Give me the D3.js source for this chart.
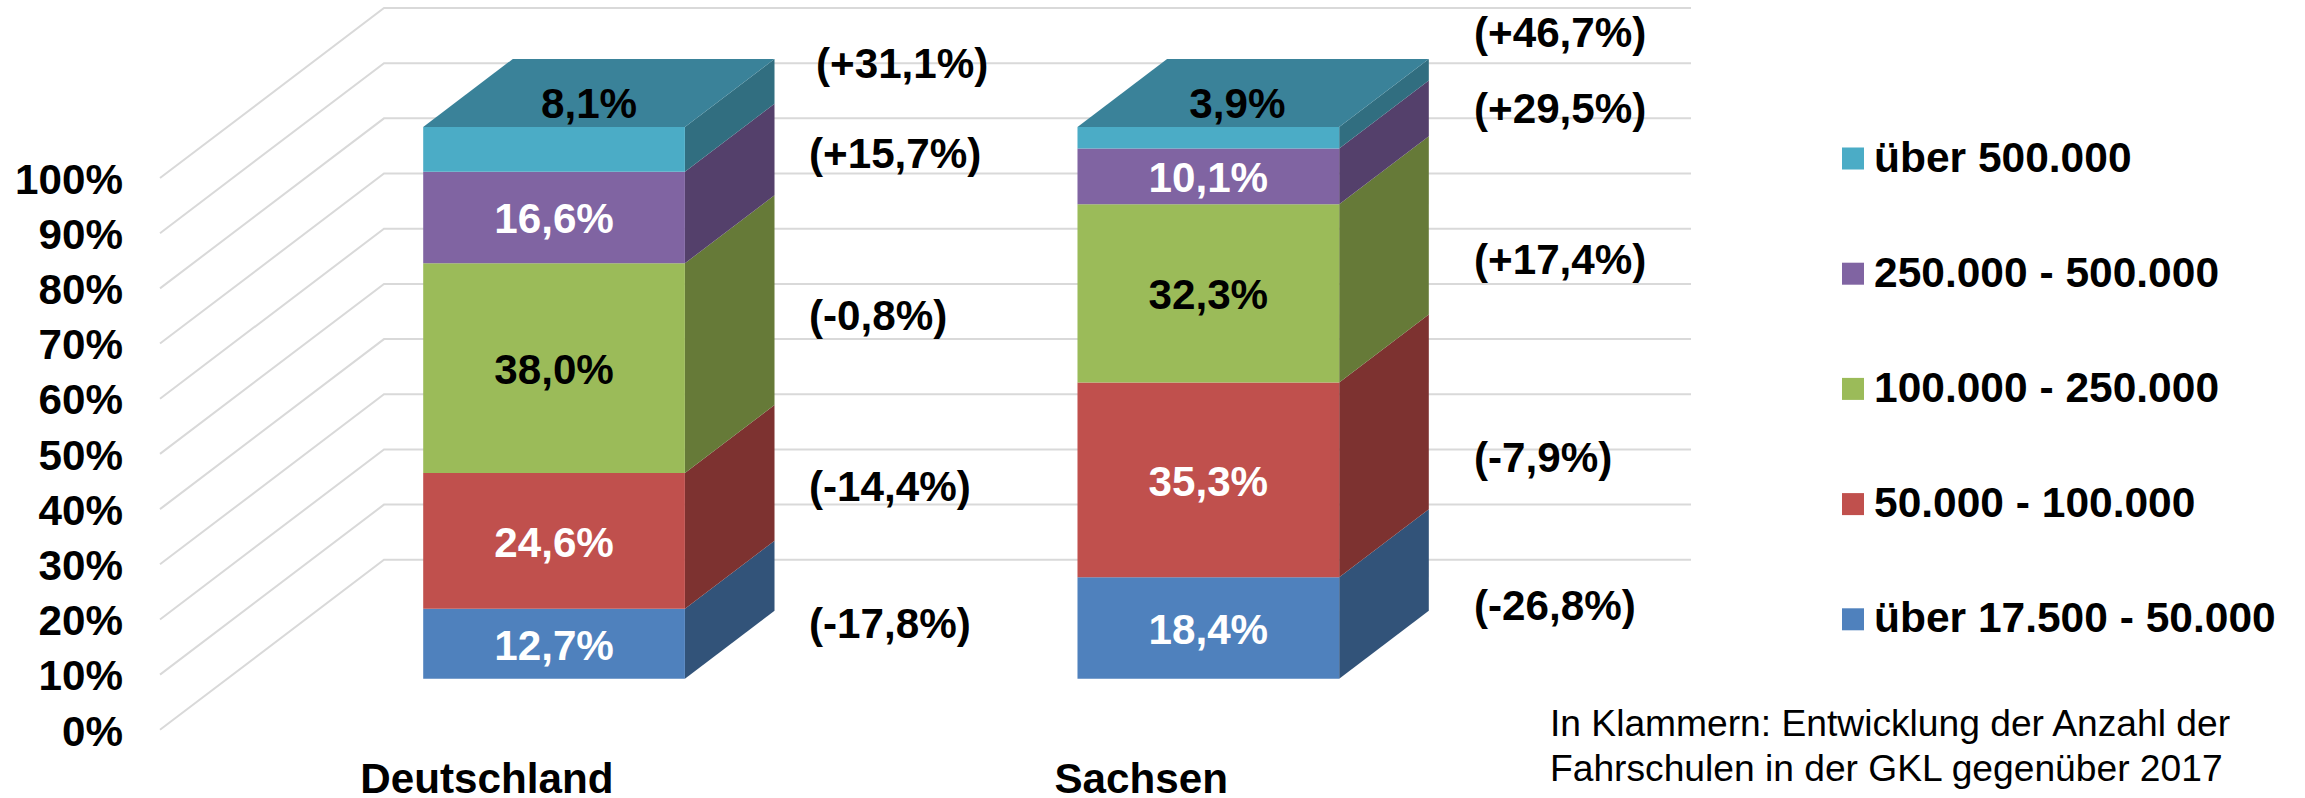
<!DOCTYPE html>
<html>
<head>
<meta charset="utf-8">
<style>
    html, body { margin: 0; padding: 0; background: white; }
    svg { display: block; font-family: "Liberation Sans", Arial, sans-serif; }
</style>
<script src="https://cdn.jsdelivr.net/npm/d3@7"></script>
</head>
<body>
<div id="chart"></div>
<script>
const categories = ['Deutschland', 'Sachsen'];
const classes = ['über 17.500 - 50.000', '50.000 - 100.000', '100.000 - 250.000', '250.000 - 500.000', 'über 500.000'];
const deutschland = [12.7, 24.6, 38.0, 16.6, 8.1];
const sachsen = [18.4, 35.3, 32.3, 10.1, 3.9];
const changeDeutschland = ['(-17,8%)', '(-14,4%)', '(-0,8%)', '(+15,7%)', '(+31,1%)'];
const changeSachsen = ['(-26,8%)', '(-7,9%)', '(+17,4%)', '(+29,5%)', '(+46,7%)'];
const yTicks = [0, 10, 20, 30, 40, 50, 60, 70, 80, 90, 100];
const note = ['In Klammern: Entwicklung der Anzahl der', 'Fahrschulen in der GKL gegenüber 2017'];

const frontColors = ['#4f81bd', '#c0504d', '#9bbb59', '#8064a2', '#4bacc6'];
const sideColors = ['#325379', '#7d3230', '#667a38', '#54406b', '#316e80'];
const topColor = '#3a8299';
const labelColors = ['white', 'white', 'black', 'white', 'black'];

const width = 2305, height = 798;
const fontSize = 42.2;
const depthX = 224, depthY = 170;   // offset between front and back wall
const barNear = 0.3, barFar = 0.7;  // bar position inside the depth

const svg = d3.select('#chart').append('svg')
    .attr('width', width)
    .attr('height', height);

const x = d3.scaleBand().domain(categories).range([356, 1272]).paddingInner(0.6).paddingOuter(0);
const y = d3.scaleLinear().domain([0, 100]).range([729.8, 178]);

// oblique projection: front plane value + depth 0..1
const project = (px, v, d) => [px + d * depthX, y(v) - d * depthY];
const line = d3.line();

// wall gridlines
svg.append('g').selectAll('path')
    .data(yTicks)
    .enter()
    .append('path')
    .attr('d', t => line([project(160, t, 0), project(160, t, 1), project(1467, t, 1)]))
    .attr('fill', 'none')
    .attr('stroke', '#d9d9d9')
    .attr('stroke-width', 2);

// y axis labels
const yAxis = svg.append('g')
    .attr('transform', 'translate(123,0)')
    .call(d3.axisLeft(y).tickValues(yTicks).tickSize(0).tickPadding(0).tickFormat(t => t + '%'));
yAxis.select('.domain').remove();
yAxis.selectAll('text')
    .attr('font-family', '"Liberation Sans", Arial, sans-serif')
    .attr('font-size', fontSize)
    .attr('font-weight', 'bold')
    .attr('fill', 'black')
    .attr('dy', '0.36em');

const stack = d3.stack().keys(d3.range(classes.length));
const drawBar = (category, values, changes, changeX, changeY, topShift) => {
    const layers = stack([values]).map(l => l[0]);
    const x0 = x(category), x1 = x0 + x.bandwidth();
    const g = svg.append('g');

    // sides first, then the top, then the front
    g.selectAll('path.side')
        .data(layers)
        .enter()
        .append('path')
        .attr('class', 'side')
        .attr('d', l => line([
            project(x1, l[0], barNear), project(x1, l[0], barFar),
            project(x1, l[1], barFar), project(x1, l[1], barNear)
        ]) + 'Z')
        .attr('fill', (l, i) => sideColors[i]);

    g.append('path')
        .attr('d', line([
            project(x0, 100, barNear), project(x0, 100, barFar),
            project(x1, 100, barFar), project(x1, 100, barNear)
        ]) + 'Z')
        .attr('fill', topColor);

    g.selectAll('path.front')
        .data(layers)
        .enter()
        .append('path')
        .attr('class', 'front')
        .attr('d', l => line([
            project(x0, l[0], barNear), project(x1, l[0], barNear),
            project(x1, l[1], barNear), project(x0, l[1], barNear)
        ]) + 'Z')
        .attr('fill', (l, i) => frontColors[i]);

    // value labels, the smallest one was moved onto the top face
    g.selectAll('text.value')
        .data(layers)
        .enter()
        .append('text')
        .attr('class', 'value')
        .attr('text-anchor', 'middle')
        .attr('font-size', fontSize)
        .attr('font-weight', 'bold')
        .attr('fill', (l, i) => labelColors[i])
        .attr('x', (l, i) => project((x0 + x1) / 2, 0, barNear)[0] + (i === 4 ? topShift[0] : 0))
        .attr('y', (l, i) => project(x0, (l[0] + l[1]) / 2, barNear)[1] + 16 + (i === 4 ? topShift[1] : 0))
        .text((l, i) => values[i].toFixed(1).replace('.', ',') + '%');

    // change since 2017
    g.selectAll('text.change')
        .data(changes)
        .enter()
        .append('text')
        .attr('class', 'change')
        .attr('font-size', fontSize)
        .attr('font-weight', 'bold')
        .attr('x', (c, i) => changeX[i])
        .attr('y', (c, i) => changeY[i])
        .text(c => c);

    // category label sits on the front edge of the floor
    g.append('text')
        .attr('text-anchor', 'middle')
        .attr('font-size', fontSize)
        .attr('font-weight', 'bold')
        .attr('x', (x0 + x1) / 2)
        .attr('y', 793)
        .text(category);
};

drawBar('Deutschland', deutschland, changeDeutschland,
    [809, 809, 809, 809, 816], [638, 501, 330, 168, 78], [35, -47]);
drawBar('Sachsen', sachsen, changeSachsen,
    [1474, 1474, 1474, 1474, 1474], [620, 472, 274, 123, 47], [29, -36]);

// legend, top entry is the last series
const legend = svg.append('g').selectAll('g')
    .data(classes.slice().reverse())
    .enter()
    .append('g')
    .attr('transform', (d, i) => `translate(1842,${158.5 + i * 115.2})`);
legend.append('rect')
    .attr('y', -11)
    .attr('width', 22)
    .attr('height', 22)
    .attr('fill', (d, i) => frontColors[classes.length - 1 - i]);
legend.append('text')
    .attr('x', 32)
    .attr('y', 13)
    .attr('font-size', 42.5)
    .attr('font-weight', 'bold')
    .text(d => d);

// note
svg.append('g').selectAll('text')
    .data(note)
    .enter()
    .append('text')
    .attr('x', 1550)
    .attr('y', (d, i) => 736 + i * 45)
    .attr('font-size', 37.2)
    .text(d => d);
</script>
</body>
</html>
